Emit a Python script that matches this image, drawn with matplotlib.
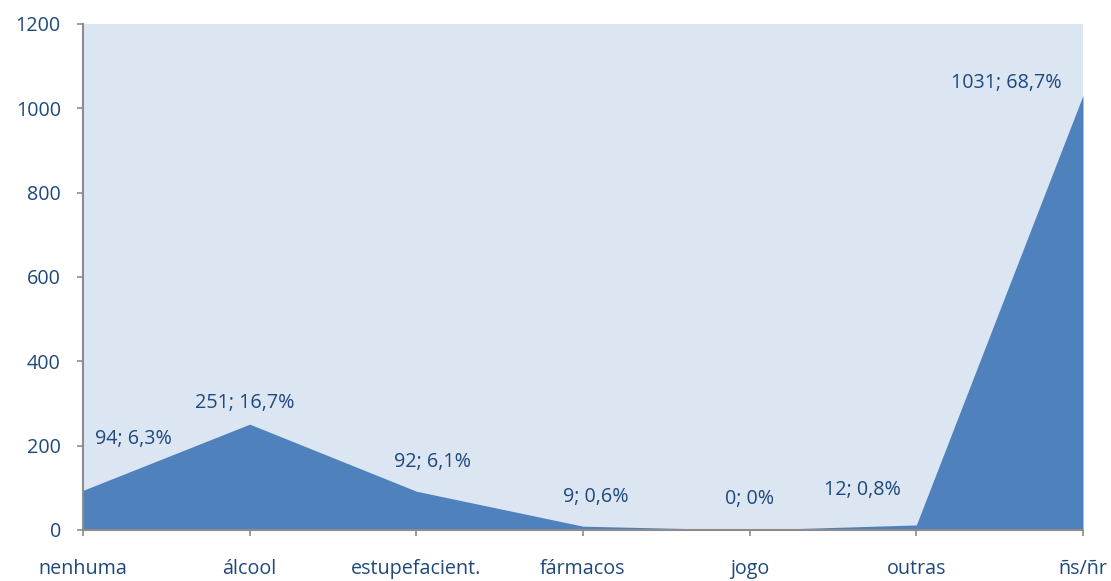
import matplotlib.pyplot as plt

# Categories and counts
categories = ["nenhuma", "álcool", "estupefacient.", "fármacos", "jogo", "outras", "ñs/ñr"]
counts = [94, 251, 92, 9, 0, 12, 1031]
percents = ["6,3%", "16,7%", "6,1%", "0,6%", "0%", "0,8%", "68,7%"]

# label offsets in pixels from each point
label_offsets = [(50, 51), (-5, 21), (16, 29), (13, 29), (0, 31), (-54, 35), (-77, 12)]

text_color = "#1f497d"
axis_color = "#8c8c8c"
font_size = 14.2

fig = plt.figure(figsize=(11.11, 5.81), dpi=100)
ax = fig.add_axes([0.0747, 0.0878, 0.9001, 0.8709])
ax.set_facecolor("#dce6f2")

x = list(range(len(categories)))
ax.fill_between(x, counts, 0, color="#4f81bd", linewidth=0)

ax.set_xlim(0, len(categories) - 1)
ax.set_ylim(0, 1200)
ax.set_yticks(range(0, 1201, 200))
ax.set_xticks(x)
ax.set_xticklabels(categories)

for side in ["top", "right"]:
    ax.spines[side].set_visible(False)
for side in ["left", "bottom"]:
    ax.spines[side].set_color(axis_color)
    ax.spines[side].set_linewidth(1.5)

ax.tick_params(axis="both", colors=axis_color, labelcolor=text_color,
               labelsize=font_size, length=4, width=1.2, direction="out")
ax.tick_params(axis="x", pad=17)
ax.tick_params(axis="y", pad=12)
for lbl in ax.get_xticklabels() + ax.get_yticklabels():
    lbl.set_fontfamily("Open Sans")

for xi, c, p, off in zip(x, counts, percents, label_offsets):
    ax.annotate(f"{c}; {p}", (xi, c), xytext=off, textcoords="offset pixels",
                ha="center", va="center", fontsize=font_size, color=text_color,
                family="Open Sans")

fig.savefig("out.png", dpi=100)
